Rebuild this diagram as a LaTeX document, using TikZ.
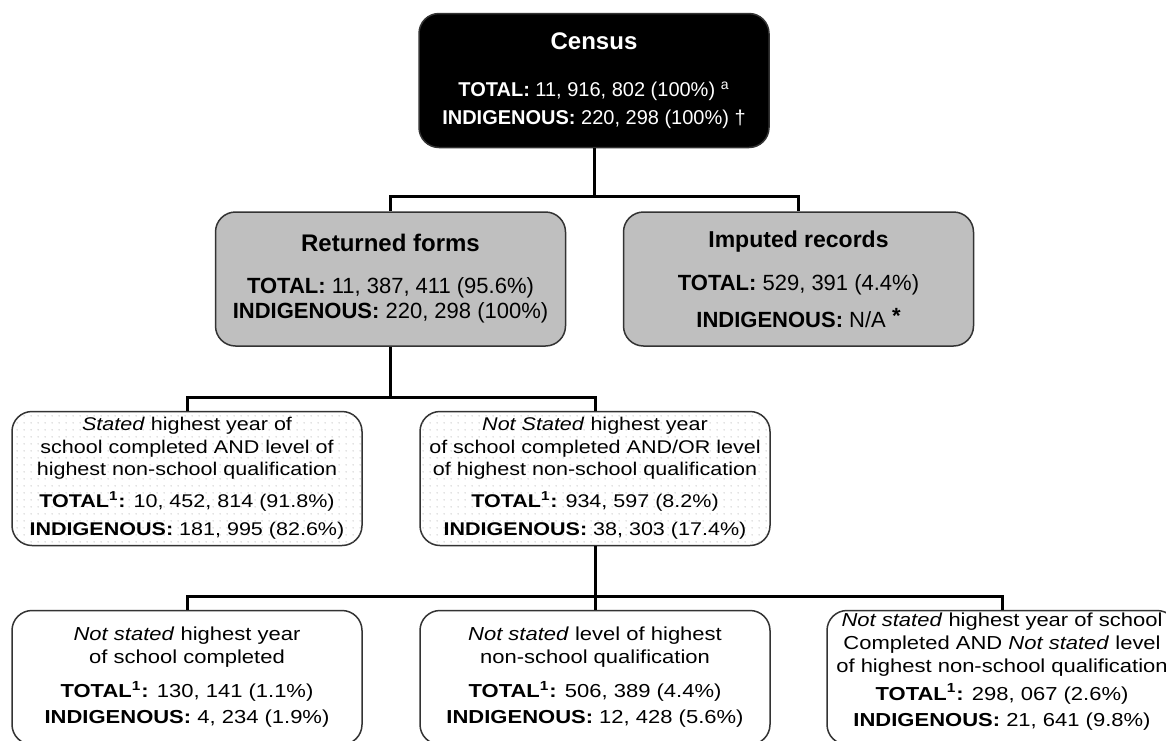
\documentclass[tikz,border=0pt]{standalone}
\usepackage{fontspec}
\setmainfont{Liberation Sans}
\newfontfamily\widefont{Liberation Sans}[FakeStretch=1.17]
\usetikzlibrary{patterns.meta}

\tikzdeclarepattern{
  name=lightdots, type=uncolored,
  bounding box={(0pt,0pt) and (3.5pt,3.5pt)},
  tile size={(3.5pt,3.5pt)},
  code={\fill (1.75pt,1.75pt) circle (0.35pt);}
}

\begin{document}
\begin{tikzpicture}[x=0.5pt,y=-0.5pt,
  box/.style={draw=black!80, line width=0.75pt, rounded corners=10pt,
    minimum width=175pt, minimum height=67pt, inner sep=0pt, align=center},
  topbox/.style={box, fill=black, text=white, font=\fontsize{10}{14}\selectfont},
  graybox/.style={box, fill=black!25, font=\fontsize{11}{12.5}\selectfont},
  dotbox/.style={box, fill=white, postaction={pattern=lightdots, pattern color=black!30},
    font=\widefont\fontsize{9.2}{11.25}\selectfont},
  plainbox/.style={box, fill=white, font=\widefont\fontsize{9.4}{11.5}\selectfont},
  link/.style={line width=1.5pt}]

\useasboundingbox (0,0) rectangle (1166,740);
\clip (0,0) rectangle (1166,740);

\node[topbox] (census) at (594,80.5) {{\fontsize{12}{14}\selectfont\bfseries Census}\\[9.5pt]
  \textbf{TOTAL:} 11, 916, 802 (100\%) \textsuperscript{a}\\
  \textbf{INDIGENOUS:} 220, 298 (100\%) †};

\node[graybox] (returned) at (390.5,279) {{\fontsize{12}{14}\selectfont\bfseries Returned forms}\\[8.5pt]
  \textbf{TOTAL:} 11, 387, 411 (95.6\%)\\
  \textbf{INDIGENOUS:} 220, 298 (100\%)};
\node[graybox, font=\fontsize{11}{18.5}\selectfont] (imputed) at (798.5,279) {{\fontsize{11.5}{14}\selectfont\bfseries Imputed records}\\[3pt]
  \textbf{TOTAL:} 529, 391 (4.4\%)\\
  \textbf{INDIGENOUS:} N/A {\bfseries\raisebox{2pt}{*}}};

\node[dotbox] (stated) at (187,478.5) {\textit{Stated} highest year of\\
  school completed AND level of\\
  highest non-school qualification\\[4.75pt]
  \textbf{TOTAL\textsuperscript{1}:} 10, 452, 814 (91.8\%)\\[2.75pt]
  \textbf{INDIGENOUS:} 181, 995 (82.6\%)};
\node[dotbox] (notstated) at (595,478.5) {\textit{Not Stated} highest year\\
  of school completed AND/OR level\\
  of highest non-school qualification\\[4.75pt]
  \textbf{TOTAL\textsuperscript{1}:} 934, 597 (8.2\%)\\[2.75pt]
  \textbf{INDIGENOUS:} 38, 303 (17.4\%)};

\node[plainbox] (nsyear) at (187,677.5) {\textit{Not stated} highest year\\
  of school completed\\[5.5pt]
  \textbf{TOTAL\textsuperscript{1}:} 130, 141 (1.1\%)\\[1.5pt]
  \textbf{INDIGENOUS:} 4, 234 (1.9\%)};
\node[plainbox] (nsqual) at (595,677.5) {\textit{Not stated} level of highest\\
  non-school qualification\\[5.5pt]
  \textbf{TOTAL\textsuperscript{1}:} 506, 389 (4.4\%)\\[1.5pt]
  \textbf{INDIGENOUS:} 12, 428 (5.6\%)};
\node[plainbox] (nsboth) at (1002,677.5) {\textit{Not stated} highest year of school\\
  Completed AND \textit{Not stated} level\\
  of highest non-school qualification\\[2.5pt]
  \textbf{TOTAL\textsuperscript{1}:} 298, 067 (2.6\%)\\[1.5pt]
  \textbf{INDIGENOUS:} 21, 641 (9.8\%)\rule[-8pt]{0pt}{0pt}};

\draw[link] (census.south) -- ++(0,48) -| (returned.north);
\draw[link] (census.south) -- ++(0,48) -| (imputed.north);
\draw[link] (returned.south) -- ++(0,51) -| (stated.north);
\draw[link] (returned.south) -- ++(0,51) -| (notstated.north);
\draw[link] (notstated.south) -- ++(0,50) -| (nsyear.north);
\draw[link] (notstated.south) -- ++(0,50) -| (nsqual.north);
\draw[link] (notstated.south) -- ++(0,50) -| (nsboth.north);

\end{tikzpicture}
\end{document}
